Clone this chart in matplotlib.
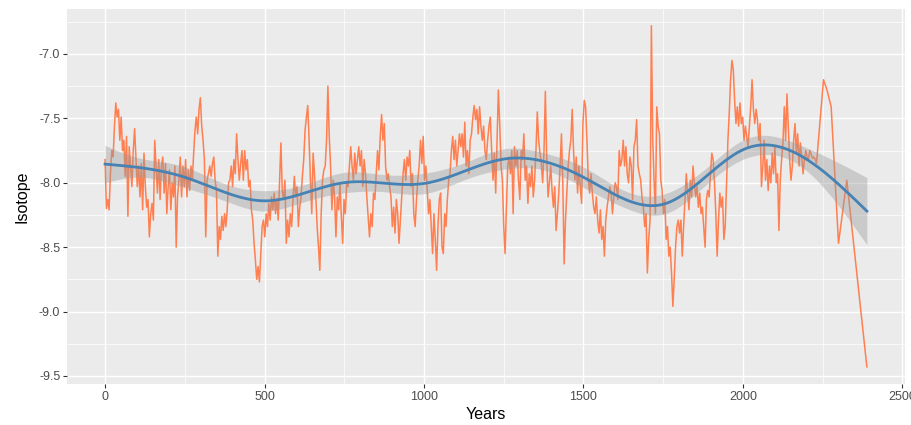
import numpy as np
import matplotlib
matplotlib.use("Agg")
import matplotlib.pyplot as plt
from matplotlib.ticker import MultipleLocator

plt.rcParams["font.family"] = ["Liberation Sans", "DejaVu Sans"]
plt.rcParams["axes.unicode_minus"] = False

# Isotope record, evenly sampled from year 0 to year 2231
isotope = [
    -7.82, -8.20, -8.13, -8.21, -7.93, -7.75, -7.80, -7.56, -7.38, -7.49,
    -7.43, -7.67, -7.49, -7.75, -7.67, -7.95, -7.64, -8.26, -7.72, -7.87,
    -8.03, -7.75, -7.58, -7.80, -8.03, -7.87, -8.11, -7.85, -8.21, -7.77,
    -8.03, -8.19, -8.13, -8.42, -8.24, -8.16, -8.29, -7.67, -7.87, -8.08,
    -7.82, -8.13, -7.87, -7.80, -8.08, -7.85, -8.24, -8.03, -7.90, -8.21,
    -8.00, -8.11, -7.87, -8.50, -8.11, -7.98, -7.80, -8.11, -7.87, -8.03,
    -7.82, -8.11, -7.90, -8.06, -7.87, -7.98, -7.77, -7.59, -7.49, -7.62,
    -7.43, -7.34, -7.56, -7.67, -7.82, -8.42, -7.98, -7.93, -7.87, -7.95,
    -7.85, -7.80, -7.98, -8.06, -8.57, -8.34, -8.44, -8.26, -8.37, -8.24,
    -8.34, -8.21, -8.00, -7.98, -7.87, -8.03, -7.82, -7.93, -7.62, -7.82,
    -7.98, -7.85, -7.75, -7.98, -7.75, -7.90, -7.82, -8.03, -7.98, -8.21,
    -8.29, -8.47, -8.60, -8.75, -8.65, -8.77, -8.55, -8.34, -8.29, -8.42,
    -8.24, -8.34, -8.16, -8.29, -8.11, -8.21, -8.08, -8.24, -8.13, -8.29,
    -7.98, -7.69, -8.06, -8.13, -7.98, -8.47, -8.29, -8.42, -8.24, -8.34,
    -8.13, -7.95, -8.11, -8.03, -8.34, -8.19, -8.11, -7.95, -7.82, -7.59,
    -7.49, -7.40, -7.67, -7.98, -8.24, -7.77, -7.93, -8.11, -8.34, -8.50,
    -8.68, -8.24, -7.98, -7.90, -7.87, -7.67, -7.25, -7.64, -7.87, -8.21,
    -7.98, -8.11, -8.42, -8.11, -8.21, -8.00, -8.26, -8.47, -8.13, -8.24,
    -8.00, -8.03, -7.87, -7.72, -7.87, -7.98, -7.77, -7.93, -7.82, -7.72,
    -7.87, -7.75, -8.03, -7.82, -7.93, -8.11, -8.26, -8.42, -8.24, -8.34,
    -8.08, -8.13, -7.93, -7.75, -7.90, -7.64, -7.47, -7.67, -7.54, -7.87,
    -7.98, -7.93, -8.03, -8.11, -8.34, -8.19, -8.39, -8.13, -8.24, -8.47,
    -8.29, -8.11, -7.93, -7.82, -7.98, -7.80, -7.87, -7.75, -8.03, -7.93,
    -8.24, -8.34, -8.13, -7.98, -7.87, -7.67, -7.85, -7.64, -7.98, -7.87,
    -8.06, -8.24, -8.13, -8.34, -8.55, -8.24, -8.44, -8.68, -8.34, -8.13,
    -8.08, -8.50, -8.55, -8.24, -8.34, -8.13, -7.98, -7.93, -7.75, -7.64,
    -7.82, -7.67, -7.87, -7.75, -7.62, -7.72, -7.62, -7.80, -7.53, -7.87,
    -7.75, -7.93, -7.67, -7.62, -7.49, -7.40, -7.51, -7.43, -7.62, -7.41,
    -7.56, -7.67, -7.56, -7.75, -7.82, -7.67, -7.56, -7.49, -7.75, -7.98,
    -7.77, -8.08, -7.67,
    -7.28, -7.54, -7.87, -7.98, -8.34, -8.55, -8.19, -7.87, -7.80, -7.93,
    -7.75, -8.24, -7.72, -7.87, -7.75, -7.98, -8.13, -7.75, -7.82, -7.62,
    -7.98, -7.87, -8.16, -7.93, -8.03, -7.87, -8.11, -7.98, -7.75, -7.45,
    -7.67, -7.77, -7.85, -8.00, -7.75, -7.29, -7.80, -8.11, -8.00, -7.87,
    -8.06, -8.19, -8.03, -8.37, -8.24, -8.08, -7.87, -7.62, -8.00, -8.63,
    -8.29, -8.08, -7.87, -7.75, -7.67, -7.43, -7.75, -7.98, -7.80, -8.08,
    -7.87, -8.03, -8.16, -7.54, -7.36, -7.41, -7.67, -7.98, -8.08, -7.93,
    -8.08, -8.19, -8.24, -8.11, -8.29, -8.39, -8.21, -8.44, -8.34, -8.57,
    -8.29, -8.19, -8.11, -8.03, -8.08, -8.24, -8.11, -8.00, -8.03, -8.13,
    -7.75, -7.87, -7.82, -7.67, -7.87, -7.72, -7.93, -8.00, -7.80, -7.87,
    -8.13, -7.72, -7.67, -7.51, -7.87, -7.93, -7.98, -8.11, -8.19, -8.34,
    -8.24, -8.70, -8.44, -8.29, -6.78, -7.67, -7.98, -8.24, -7.41, -7.56,
    -7.62, -7.98, -8.06, -8.24, -8.13, -8.44, -8.34, -8.57, -8.50, -8.70,
    -8.96, -8.75, -8.50, -8.34, -8.29, -8.39, -8.29, -8.57, -8.34, -8.13,
    -7.93, -8.08, -8.21, -7.98, -8.11, -7.87, -8.00, -8.11, -8.03, -8.19,
    -8.08, -8.24, -8.19, -8.34, -8.50, -8.13, -8.06, -8.11, -7.93, -7.77,
    -7.82, -8.00, -8.24, -8.57, -8.29, -8.08, -8.19, -8.11, -8.44, -8.34,
    -8.00, -7.67, -7.46, -7.20, -7.05, -7.12, -7.36, -7.54, -7.41, -7.56,
    -7.38, -7.54, -7.49, -7.67, -7.56, -7.64, -7.72, -7.56, -7.41, -7.20,
    -7.43, -7.54, -7.43, -7.51, -7.67, -7.54, -8.03, -7.87, -7.67, -7.98,
    -7.82, -8.06, -7.87, -8.00, -7.77, -7.93, -7.72, -8.00, -7.93, -8.37,
    -7.98, -7.82, -7.69, -7.41, -7.67, -7.31, -7.56, -7.82, -7.98, -7.87,
    -7.67, -7.54, -7.77, -7.62, -7.87, -7.69, -7.80, -7.93, -7.82, -7.75,
    -7.80, -7.82, -7.75, -7.78, -7.81, -7.80, -7.82, -7.85,
]
years = np.linspace(0, 2231, len(isotope))

# Sparse samples at the end of the record
tail_years = [2253, 2264, 2277, 2300, 2326, 2389]
tail_isotope = [-7.20, -7.28, -7.41, -8.47, -7.98, -9.43]

x = np.concatenate([years, tail_years])
y = np.concatenate([isotope, tail_isotope])


def crs_basis(t, knots, deriv=0):
    """Natural cubic spline basis (truncated power form) or its 2nd derivative."""
    K = len(knots)
    if deriv == 0:
        p = lambda u: np.clip(u, 0, None) ** 3
    else:
        p = lambda u: 6.0 * np.clip(u, 0, None)
    def d(k):
        return (p(t - knots[k]) - p(t - knots[K - 1])) / (knots[K - 1] - knots[k])
    if deriv == 0:
        cols = [np.ones_like(t), t]
    else:
        cols = [np.zeros_like(t), np.zeros_like(t)]
    dK = d(K - 2)
    for k in range(K - 2):
        cols.append(d(k) - dK)
    return np.column_stack(cols)


# Penalised cubic regression spline, smoothness chosen by GCV
scale = x.max()
xs = x / scale
knots = np.quantile(xs, np.linspace(0, 1, 10))
B = crs_basis(xs, knots)
tq = np.linspace(0, 1, 2001)
B2 = crs_basis(tq, knots, deriv=2)
S = (B2.T @ B2) * (tq[1] - tq[0])
BtB, Bty = B.T @ B, B.T @ y
n = len(y)

best = None
for lam in 10.0 ** np.linspace(-9, 1, 81):
    M = np.linalg.inv(BtB + lam * S)
    beta = M @ Bty
    rss = np.sum((y - B @ beta) ** 2)
    edf = np.trace(M @ BtB)
    gcv = n * rss / (n - edf) ** 2
    if best is None or gcv < best[0]:
        best = (gcv, beta, M, rss, edf)
_, beta, M, rss, edf = best
sigma2 = rss / (n - edf)
cov = M * sigma2

grid = np.linspace(x.min(), x.max(), 400)
Bg = crs_basis(grid / scale, knots)
fit = Bg @ beta
se = np.sqrt(np.einsum("ij,jk,ik->i", Bg, cov, Bg))
lo, hi = fit - 1.96 * se, fit + 1.96 * se

fig = plt.figure(figsize=(9.11, 4.25), dpi=100)
ax = fig.add_axes([0.0735, 0.0965, 0.9199, 0.8833])
ax.set_facecolor("#EBEBEB")

ax.plot(x, y, color="#FF7F50", lw=1.1, zorder=2)
ax.fill_between(grid, lo, hi, color="#999999", alpha=0.4, lw=0, zorder=3)
ax.plot(grid, fit, color="#4682B4", lw=2.0, zorder=4)

ax.set_xlim(-119.5, 2508.5)
ax.set_ylim(-9.5625, -6.6475)
ax.xaxis.set_major_locator(MultipleLocator(500))
ax.xaxis.set_minor_locator(MultipleLocator(250))
ax.yaxis.set_major_locator(MultipleLocator(0.5))
ax.yaxis.set_minor_locator(MultipleLocator(0.25))
ax.yaxis.set_major_formatter(plt.FormatStrFormatter("%.1f"))

ax.grid(which="major", color="white", lw=1.0, zorder=0)
ax.grid(which="minor", color="white", lw=0.5, zorder=0)
ax.set_axisbelow(True)
for s in ax.spines.values():
    s.set_visible(False)

ax.tick_params(which="major", length=2.75, width=0.8, color="#333333",
               labelcolor="#4D4D4D", labelsize=9, pad=2)
ax.tick_params(which="minor", length=0)

ax.set_xlabel("Years", fontsize=11.5, labelpad=3)
ax.set_ylabel("Isotope", fontsize=11.5, labelpad=7)

fig.savefig("out.png", dpi=100)
